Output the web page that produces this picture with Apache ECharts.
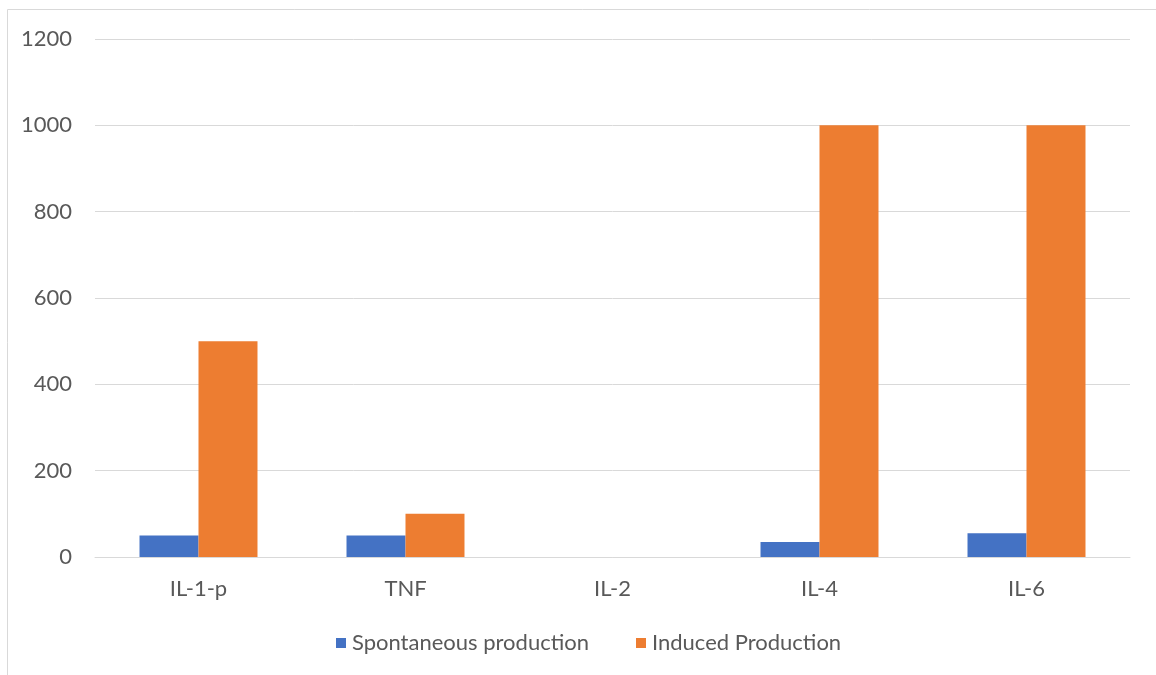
<!DOCTYPE html>
<html><head><meta charset="utf-8">
<script src="https://cdn.jsdelivr.net/npm/echarts@6/dist/echarts.min.js"></script>
<style>html,body{margin:0;padding:0;background:#fff}#c{width:1156px;height:675px}</style>
</head><body><div id="c"></div>
<script>
const categories = ['IL-1-p', 'TNF', 'IL-2', 'IL-4', 'IL-6'];
const spontaneous = [50, 50, 0, 35, 55];
const induced = [500, 100, 0, 1000, 1000];
const seriesNames = ['Spontaneous production', 'Induced Production'];

const chart = echarts.init(document.getElementById('c'));
const font = 'Lato, Carlito, Calibri, sans-serif';
chart.setOption({
  animation: false,
  textStyle: { fontFamily: font },
  graphic: [{
    type: 'rect', shape: { x: 7.5, y: 9.5, width: 1300, height: 800 },
    style: { fill: 'none', stroke: '#d9d9d9', lineWidth: 1 }, silent: true
  }],
  grid: { left: 95, right: 26, top: 39, bottom: 118 },
  legend: {
    left: 331, top: 627, itemWidth: 10, itemHeight: 10, itemGap: 47,
    icon: 'rect',
    textStyle: { color: '#595959', fontSize: 22, fontFamily: font, padding: [0, 0, 0, 1] },
    data: seriesNames
  },
  xAxis: {
    type: 'category', data: categories,
    axisLine: { lineStyle: { color: '#d9d9d9', width: 1 } },
    axisTick: { show: false },
    axisLabel: { color: '#595959', fontSize: 22, margin: 21, fontFamily: font }
  },
  yAxis: {
    type: 'value', min: 0, max: 1200, interval: 200,
    axisLine: { show: false }, axisTick: { show: false },
    splitLine: { lineStyle: { color: '#d9d9d9', width: 1 } },
    axisLabel: { color: '#595959', fontSize: 22, margin: 23, fontFamily: font,
      formatter: function (v) { return String(v); } }
  },
  series: [
    { name: seriesNames[0], type: 'bar', data: spontaneous, barGap: '0%', barCategoryGap: '43%',
      itemStyle: { color: '#4472c4' } },
    { name: seriesNames[1], type: 'bar', data: induced, barGap: '0%', barCategoryGap: '43%',
      itemStyle: { color: '#ed7d31' } }
  ]
});
</script></body></html>
